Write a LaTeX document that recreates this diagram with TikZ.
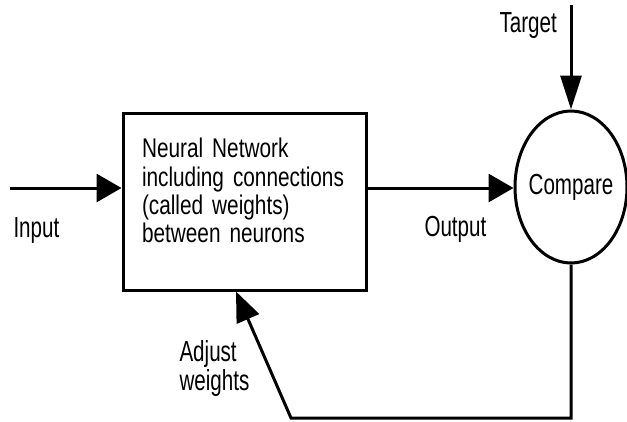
\documentclass[tikz,border=0pt]{standalone}
\usepackage{fontspec}
\setmainfont{Liberation Sans}
\newfontfamily\boxfont[FakeStretch=0.77]{Liberation Sans}
\newfontfamily\labfont[FakeStretch=0.71]{Liberation Sans}
\usetikzlibrary{arrows.meta,shapes.geometric}

\begin{document}
\begin{tikzpicture}[x=1pt,y=-1pt,line width=3pt,
        harrow/.style={-{Triangle[length=25pt,width=28pt]}},
        varrow/.style={-{Triangle[length=34pt,width=21pt]}},
        darrow/.style={-{Triangle[length=30pt,width=24pt]}},
        lbl/.style={font=\labfont\fontsize{29}{27}\selectfont, inner sep=0pt, align=left}]
        \useasboundingbox (0,0) rectangle (627,421);
        \node (nn) [rectangle, draw, minimum width=243pt, minimum height=177pt, inner xsep=19pt, text width=205pt, align=left, text depth=107pt, font=\boxfont\fontsize{27}{28.3}\selectfont] at (244.5,201.5) {Neural Network\\including connections\\(called weights)\\between neurons};
        \node (cmp) [ellipse, draw, minimum width=112pt, minimum height=152pt, inner xsep=-12pt, font=\labfont\fontsize{29}{30}\selectfont] at (571,187) {Compare};
        \coordinate (src) at (10,188);
        \coordinate (tgt) at (571,5);
        \coordinate (turn) at (291,418);
        \coordinate (hit) at ([xshift=-8.5pt]nn.south);

        \node (inlbl) [lbl, anchor=base west] at (12,237) {Input};
        \node (outlbl) [lbl, anchor=base west] at (423,236) {Output};
        \node (tgtlbl) [lbl, anchor=base west] at (498,32) {Target};
        \node (adjlbl) [lbl, anchor=base west] at (178,390) {Adjust\\weights};

        \draw[harrow] (src) -- (src -| nn.west);
        \draw[harrow] (src -| nn.east) -- (src -| cmp.west);
        \draw[varrow] (tgt) -- (cmp.north);
        \draw[darrow] (cmp.south) |- (turn) -- (hit);
    \end{tikzpicture}
\end{document}
